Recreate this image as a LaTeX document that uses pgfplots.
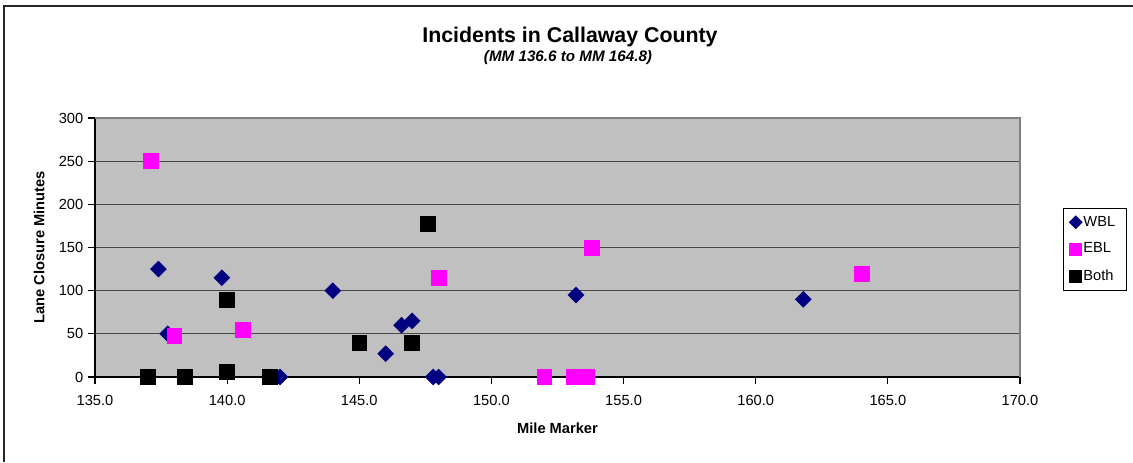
\documentclass[border=0pt]{standalone}
\usepackage{pgfplots}
\pgfplotsset{compat=1.18}
\usepackage{fontspec}
\setmainfont{Liberation Sans}

\definecolor{wbl}{RGB}{0,0,128}
\definecolor{ebl}{RGB}{255,0,255}
\definecolor{plotgray}{RGB}{192,192,192}
\definecolor{bordergray}{RGB}{128,128,128}

\begin{document}
% one unit = one screen pixel (0.75pt)
\begin{tikzpicture}[x=0.75pt,y=0.75pt]
\path[use as bounding box] (0,0) rectangle (1133,462);
% chart frame
\draw[line width=1pt, black!85] (4,0) -- (4,456) -- (1133,456);

% titles
\node[anchor=base, font=\fontsize{16}{19}\selectfont\bfseries] at (570,420) {Incidents in Callaway County};
\node[anchor=base, font=\fontsize{11.4}{13}\selectfont\bfseries\itshape] at (568,401) {(MM 136.6 to MM 164.8)};

\begin{axis}[
  at={(71.25pt,63.75pt)}, anchor=south west,
  scale only axis,
  width=693.75pt, height=194.25pt,
  xmin=135, xmax=170, ymin=0, ymax=300,
  xtick={135,140,...,170},
  ytick={0,50,...,300},
  axis x line*=bottom, axis y line*=left,
  axis line style={black, line width=0.8pt},
  tick align=outside,
  major tick length=5.25pt,
  tick style={black, line width=0.8pt},
  ymajorgrids,
  grid style={black!72, line width=0.8pt},
  axis background/.style={fill=plotgray},
  /pgf/number format/assume math mode=true,
  xticklabel style={font=\fontsize{11}{13}\selectfont, yshift=-5pt,
    /pgf/number format/.cd, fixed, fixed zerofill, precision=1},
  yticklabel style={font=\fontsize{11}{13}\selectfont,
    /pgf/number format/.cd, fixed, precision=0},
  xlabel={Mile Marker},
  ylabel={Lane Closure Minutes},
  xlabel style={font=\fontsize{11}{13}\selectfont\bfseries,
    at={(axis description cs:0.5,0)}, anchor=base, yshift=-42pt},
  ylabel style={font=\fontsize{11}{13}\selectfont\bfseries,
    at={(axis description cs:-0.0605,0.5)}, anchor=center},
  legend style={at={(1.0465,0.6525)}, anchor=north west,
    draw=black, fill=white, line width=0.6pt,
    font=\fontsize{11}{13}\selectfont,
    row sep=9pt, inner xsep=4.5pt, inner ysep=4.8pt,
    nodes={inner sep=1pt, text width=27pt}},
  legend cell align=left,
  legend image code/.code={\draw[mark repeat=2, mark phase=2, #1,
      /tikz/every mark/.append style={scale=0.8}]
      plot coordinates {(0pt,0pt) (5pt,0pt) (10pt,0pt)};},
  clip=false,
]
% WBL incidents
\addplot[only marks, mark=square*, mark size=4.2pt,
  mark options={rotate=45, fill=wbl, draw=wbl}] coordinates {
  (137.4,125) (137.75,50) (139.8,115) (142.0,0) (144.0,100) (146.0,27)
  (146.6,60) (147.0,65) (147.8,0) (148.0,0) (153.2,95) (161.8,90)
};
\addlegendentry{WBL}
% EBL incidents
\addplot[only marks, mark=square*, mark size=5.6pt,
  mark options={fill=ebl, draw=ebl}] coordinates {
  (137.1,250) (138.0,48) (140.6,55) (148.0,115) (152.0,0) (153.1,0)
  (153.6,0) (153.8,150) (164.0,120)
};
\addlegendentry{EBL}
% incidents in both directions
\addplot[only marks, mark=square*, mark size=5.6pt,
  mark options={fill=black, draw=black}] coordinates {
  (137.0,0) (138.4,0) (140.0,6) (140.0,90) (141.6,0) (145.0,40)
  (147.0,40) (147.6,178)
};
\addlegendentry{Both}
% plot area border on top and right
\draw[bordergray, line width=1.5pt] (rel axis cs:0,1) -- (rel axis cs:1,1) -- (rel axis cs:1,0);
\end{axis}
\end{tikzpicture}
\end{document}
